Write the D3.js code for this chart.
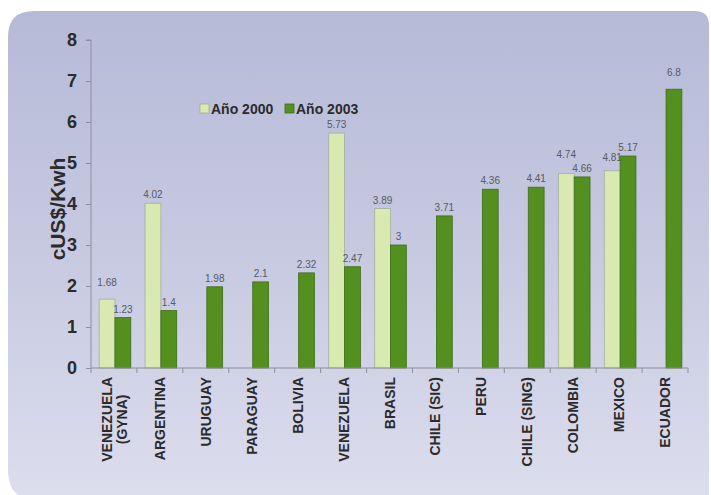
<!DOCTYPE html>
<html>
<head>
<meta charset="utf-8">
<script src="https://cdn.jsdelivr.net/npm/d3@7"></script>
<style>
  html, body { margin: 0; padding: 0; background: #ffffff; }
  svg { display: block; font-family: Arial, "Liberation Sans", sans-serif; }
</style>
</head>
<body>
<svg id="chart" width="711" height="495"></svg>
<script>
// Electricity price by country, cUS$/Kwh
const categories = [
  "VENEZUELA (GYNA)", "ARGENTINA", "URUGUAY", "PARAGUAY", "BOLIVIA",
  "VENEZUELA", "BRASIL", "CHILE (SIC)", "PERU", "CHILE (SING)",
  "COLOMBIA", "MEXICO", "ECUADOR"
];
const seriesNames = ["Año 2000", "Año 2003"];
const values2000 = [1.68, 4.02, null, null, null, 5.73, 3.89, null, null, null, 4.74, 4.81, null];
const values2003 = [1.23, 1.4, 1.98, 2.1, 2.32, 2.47, 3, 3.71, 4.36, 4.41, 4.66, 5.17, 6.8];
const yTicks = [0, 1, 2, 3, 4, 5, 6, 7, 8];

// label lifts (px) for a few value labels that sit higher above their bars
const labelLift = { "0-0": 8, "10-0": 11, "11-0": 5, "12-1": 8 };

const colors = { "Año 2000": "#d8eab2", "Año 2003": "#53901f" };
const strokes = { "Año 2000": "#a3ad9c", "Año 2003": "#3e6d18" };

const svg = d3.select("#chart");

// background panel
const defs = svg.append("defs");
const grad = defs.append("linearGradient").attr("id", "panelGrad")
  .attr("x1", 0).attr("y1", 0).attr("x2", 0).attr("y2", 1);
grad.append("stop").attr("offset", "0%").attr("stop-color", "#b6bad7");
grad.append("stop").attr("offset", "55%").attr("stop-color", "#c9cbe2");
grad.append("stop").attr("offset", "100%").attr("stop-color", "#dcdded");

const pL = 8, pT = 11, pR = 709, pB = 495, rTL = 26, rTR = 14, rBL = 20;
const panelPath = d3.path();
panelPath.moveTo(pL + rTL, pT);
panelPath.lineTo(pR - rTR, pT);
panelPath.quadraticCurveTo(pR, pT, pR, pT + rTR);
panelPath.lineTo(pR, pB + 2);
panelPath.lineTo(pL + rBL, pB + 2);
panelPath.quadraticCurveTo(pL, pB + 2, pL, pB + 2 - rBL - 8);
panelPath.lineTo(pL, pT + rTL);
panelPath.quadraticCurveTo(pL, pT, pL + rTL, pT);
panelPath.closePath();
svg.append("path").attr("d", panelPath.toString()).attr("fill", "url(#panelGrad)");

// scales
const x0 = d3.scaleBand().domain(categories).range([91, 688]).paddingInner(0).paddingOuter(0);
const x1 = d3.scaleBand().domain(seriesNames).range([0, x0.bandwidth()]).paddingInner(0).paddingOuter(0.45);
const y = d3.scaleLinear().domain([0, 8]).range([368, 40]);

// y axis
const yAxis = svg.append("g").attr("transform", "translate(91,0)")
  .call(d3.axisLeft(y).tickValues(yTicks).tickSize(5).tickPadding(9).tickFormat(d3.format("d")));
yAxis.select(".domain").attr("stroke", "#8e8f9c").attr("d", `M-5,${y(8)}H0V${y(0)}`);
yAxis.selectAll(".tick line").attr("stroke", "#8e8f9c");
yAxis.selectAll(".tick text").attr("fill", "#2b2b2b").attr("font-size", 18).attr("font-weight", "bold")
  .attr("font-family", "Arial, 'Liberation Sans', sans-serif");

// y axis title
svg.append("text")
  .attr("transform", `translate(65,${(y(5) + y(3)) / 2 + 5}) rotate(-90)`)
  .attr("text-anchor", "middle")
  .attr("font-size", 21).attr("font-weight", "bold").attr("fill", "#2b2b2b")
  .text("cUS$/Kwh");

// bars
const rows = categories.map((c, i) => ({ c, i, vals: [values2000[i], values2003[i]] }));
const groups = svg.append("g").selectAll("g").data(rows).join("g")
  .attr("transform", d => `translate(${x0(d.c) + 1},0)`);

groups.selectAll("rect")
  .data(d => d.vals.map((v, k) => ({ v, k, s: seriesNames[k], i: d.i })).filter(e => e.v != null))
  .join("rect")
  .attr("x", e => x1(e.s))
  .attr("width", x1.bandwidth())
  .attr("y", e => y(e.v))
  .attr("height", e => y(0) - y(e.v))
  .attr("fill", e => colors[e.s])
  .attr("stroke", e => strokes[e.s])
  .attr("stroke-width", 0.8);

groups.selectAll("text.val")
  .data(d => d.vals.map((v, k) => ({ v, k, s: seriesNames[k], i: d.i })).filter(e => e.v != null))
  .join("text")
  .attr("class", "val")
  .attr("x", e => x1(e.s) + x1.bandwidth() / 2)
  .attr("y", e => y(e.v) - 5 - (labelLift[`${e.i}-${e.k}`] || 0))
  .attr("text-anchor", "middle")
  .attr("font-size", 10).attr("fill", "#555a66")
  .text(e => String(e.v));

// x axis
const xAxis = svg.append("g").attr("transform", `translate(0,${y(0)})`);
xAxis.append("line").attr("x1", 91).attr("x2", 688).attr("y1", 0).attr("y2", 0).attr("stroke", "#8e8f9c");
const bounds = categories.map(c => x0(c)).concat([x0.range()[1]]);
xAxis.selectAll("line.tk").data(bounds).join("line").attr("class", "tk")
  .attr("x1", d => d).attr("x2", d => d).attr("y1", 0).attr("y2", 5).attr("stroke", "#8e8f9c");

// category labels, rotated; long names wrap onto two centred lines
const lbl = svg.append("g").selectAll("text").data(categories).join("text")
  .attr("transform", c => `translate(${x0(c) + x0.bandwidth() / 2 + 5},${y(0) + 9}) rotate(-90)`)
  .attr("text-anchor", "end")
  .attr("font-size", 14).attr("font-weight", "bold").attr("fill", "#2b2b2b");
lbl.each(function(c) {
  const m = c.length > 14 ? c.match(/^(.*) (\(.*\))$/) : null;
  const t = d3.select(this);
  if (m) {
    const a = t.append("tspan").attr("x", 0).attr("dy", "-0.5em").text(m[1]);
    const b = t.append("tspan").attr("x", 0).attr("dy", "1.1em").text(m[2]);
    const la = a.node().getComputedTextLength();
    const lb = b.node().getComputedTextLength();
    b.attr("x", -(la - lb) / 2);
  } else {
    t.text(c);
  }
});

// legend
const legend = svg.append("g").attr("transform", "translate(200,104)");
seriesNames.forEach((s, k) => {
  const g = legend.append("g").attr("transform", `translate(${k * 85},0)`);
  g.append("rect").attr("width", 9).attr("height", 9)
    .attr("fill", colors[s]).attr("stroke", strokes[s]).attr("stroke-width", 0.8);
  g.append("text").attr("x", 11).attr("y", 9.5)
    .attr("font-size", 14).attr("font-weight", "bold").attr("fill", "#2b2b2b").text(s);
});
</script>
</body>
</html>
